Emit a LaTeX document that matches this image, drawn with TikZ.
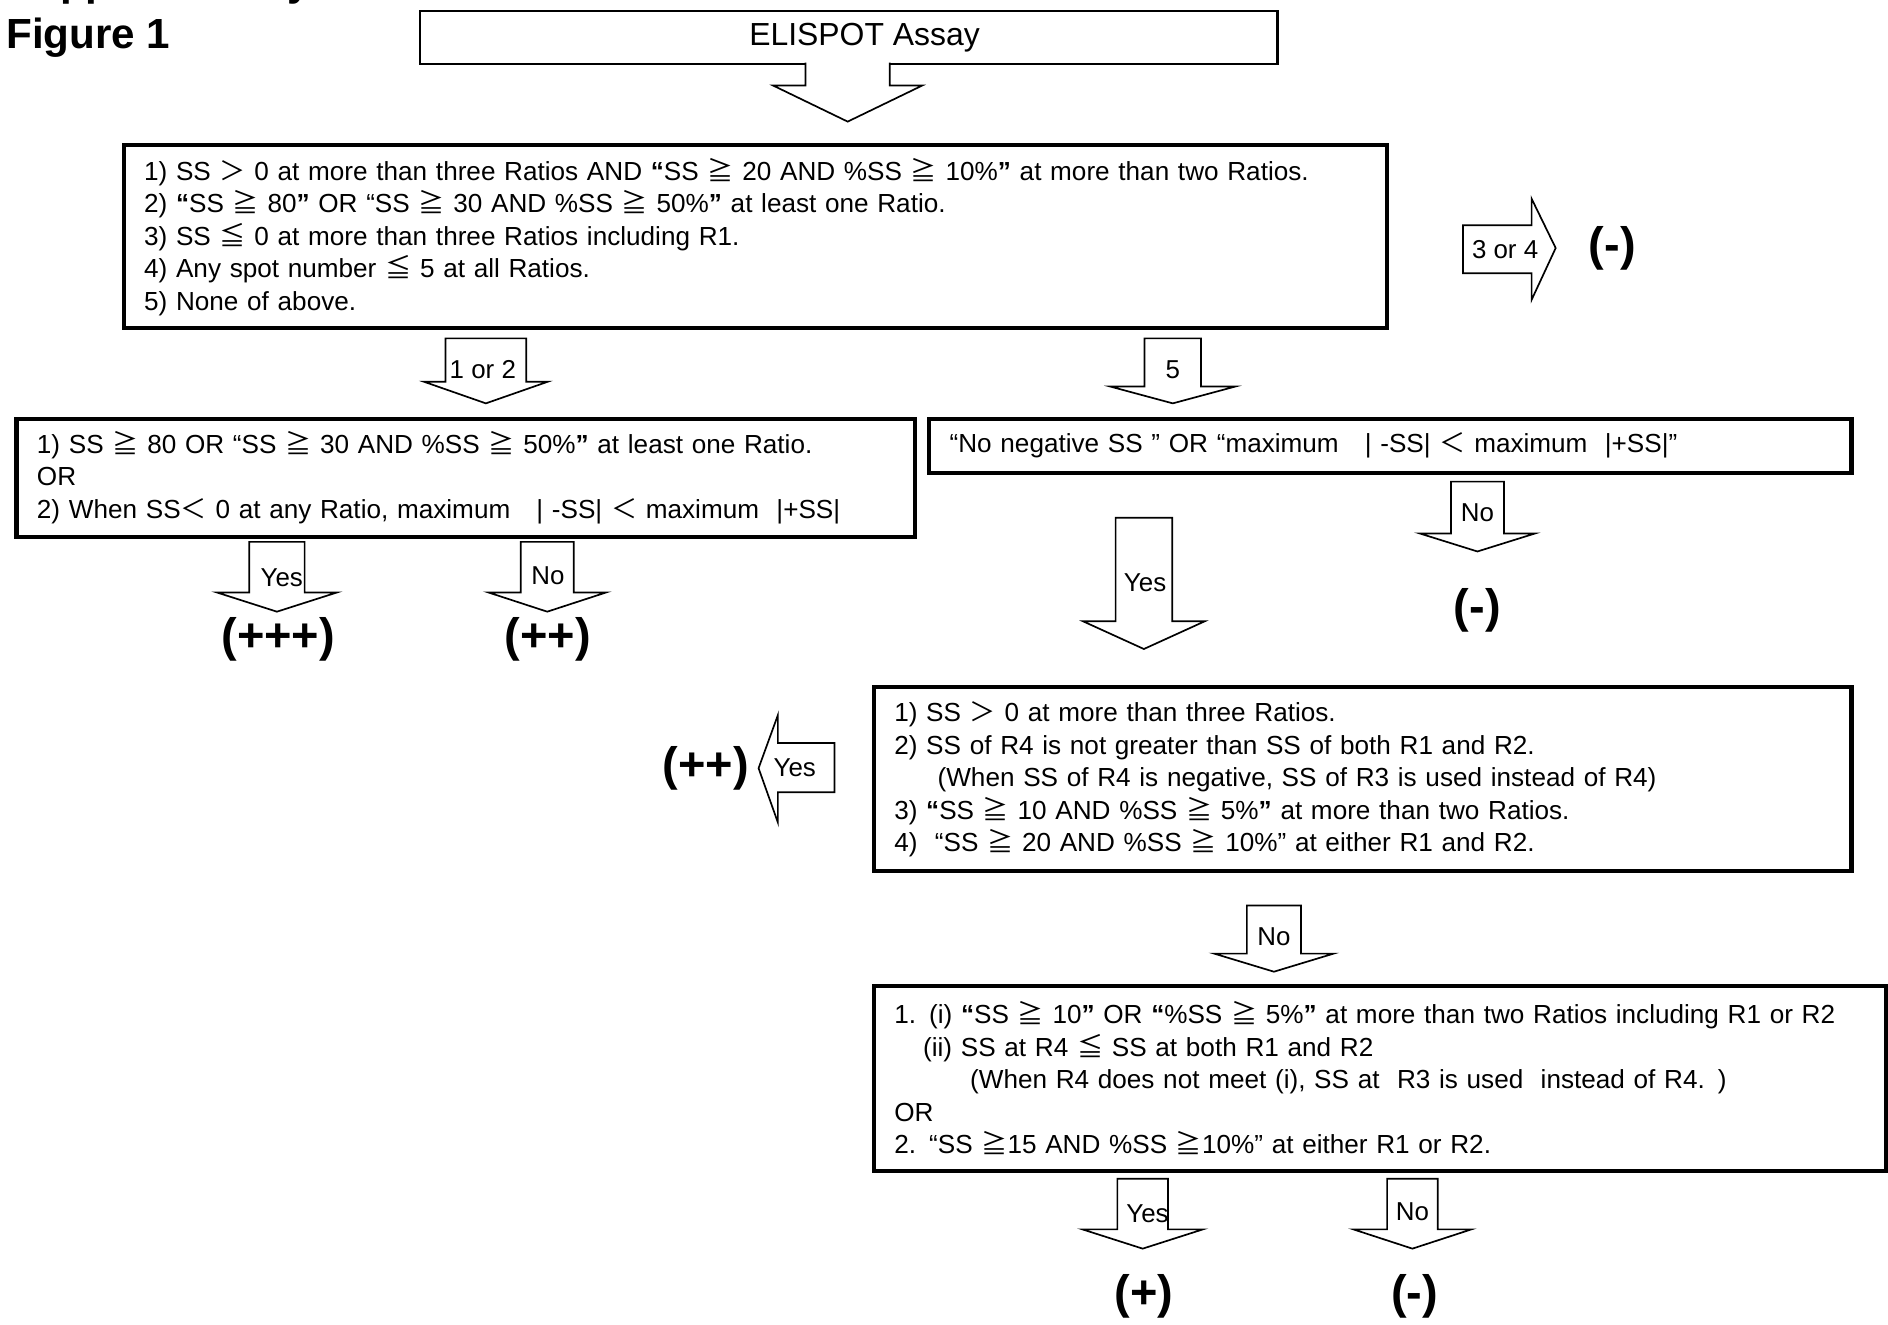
\documentclass[tikz,border=0pt]{standalone}
\usepackage{fontspec}
\setmainfont{Liberation Sans}
\newfontfamily\cjk{Noto Sans CJK JP}
\newcommand{\GEQ}{{\cjk ≧}}
\newcommand{\LEQ}{{\cjk ≦}}
\newcommand{\GTR}{{\cjk ＞}}
\newcommand{\LSS}{{\cjk ＜}}
\newcommand{\bqo}{{\bfseries “}}
\newcommand{\bqc}{{\bfseries ”}}
% down block arrow: cx, top, half shaft, wing y, half wing, tip y
\newcommand{\dar}[6]{%
  \draw[blockarrow] (#1-#3,#2) -- (#1-#3,#4) -- (#1-#5,#4) -- (#1,#6) -- (#1+#5,#4) -- (#1+#3,#4) -- (#1+#3,#2) -- cycle;}
\begin{document}
\begin{tikzpicture}[x=1pt,y=-1pt,
  box/.style={draw, line width=3.4pt, inner xsep=17pt, inner ysep=0pt, align=left, anchor=north west,
    font=\fontsize{21.7}{27}\selectfont},
  blockarrow/.style={draw, fill=white, line width=1.4pt, line join=miter},
  lbl/.style={font=\fontsize{21.5}{21.5}\selectfont, inner sep=0pt},
  res/.style={font=\bfseries\fontsize{39}{39}\selectfont, inner sep=0pt},
  ttl/.style={font=\bfseries\fontsize{35}{35}\selectfont, inner sep=0pt, anchor=base west}]
\useasboundingbox (0,0) rectangle (1568,1100);

% title
\node[ttl] (supp) at (5,-4) {Supplementary};
\node[ttl] (fig) at (5,40) {Figure 1};

% ELISPOT box and arrow
\node[draw, line width=2pt, minimum width=712pt, minimum height=44pt, inner sep=0pt, anchor=north west] (b0) at (348,8) {};
\node[font=\fontsize{26.5}{26.5}\selectfont, inner sep=0pt] (t0) at (718,31) {ELISPOT Assay};
\fill[white] (669,50) -- (669,71) -- (642,71) -- (704,101) -- (766,71) -- (739,71) -- (739,50) -- cycle;
\draw[line width=1.4pt, line join=miter] (669,52) -- (669,71) -- (642,71) -- (704,101) -- (766,71) -- (739,71) -- (739,52);

% box 1
\node[box, text width=1015pt, minimum height=152pt] (b1) at (101,119) {%
1) SS \GTR{} 0 at more than three Ratios AND \bqo SS \GEQ{} 20 AND \%SS \GEQ{} 10\%\bqc{} at more than two Ratios.\\
2) \bqo SS \GEQ{} 80\bqc{} OR “SS \GEQ{} 30 AND \%SS \GEQ{} 50\%\bqc{} at least one Ratio.\\
3) SS \LEQ{} 0 at more than three Ratios including R1.\\
4) Any spot number \LEQ{} 5 at all Ratios.\\
5) None of above.};

% 3 or 4 arrow
\draw[blockarrow] (1215,187) -- (1272,187) -- (1272,165) -- (1292,206) -- (1272,249) -- (1272,227) -- (1215,227) -- cycle;
\node[lbl] (l34) at (1250,207) {3 or 4};
\node[res] (r34) at (1339,206) {(-)};

% arrows 1 or 2 and 5
\dar{403.5}{281}{33.5}{317}{51.5}{335}
\node[lbl] (l12) at (401,307) {1 or 2};
\dar{974}{281}{23.5}{321}{52}{335}
\node[lbl] (l5) at (974,307) {5};

% box 2
\node[box, text width=712pt, minimum height=98pt] (b2) at (12,346) {%
1) SS \GEQ{} 80 OR “SS \GEQ{} 30 AND \%SS \GEQ{} 50\%\bqc{} at least one Ratio.\\
OR\\
2) When SS\LSS{} 0 at any Ratio, maximum \ \ | -SS| \LSS{} maximum \ |+SS|};

% box 3
\node[box, text width=732pt, minimum height=45pt] (b3) at (770,346) {%
“No negative SS ” OR “maximum \ \ | -SS| \LSS{} maximum \ |+SS|”};

% under box 2
\dar{230}{450}{23}{492}{50}{508}
\node[lbl] (l2y) at (234,480) {Yes};
\node[res] (r2y) at (231,531) {(+++)};
\dar{454.5}{450}{22}{492}{49}{508}
\node[lbl] (l2n) at (455,478) {No};
\node[res] (r2n) at (455,531) {(++)};

% under box 3
\dar{1227}{400}{22}{443}{48}{458}
\node[lbl] (l3n) at (1227,426) {No};
\node[res] (r3n) at (1227,507) {(-)};
\dar{950}{430}{23.5}{516}{50.5}{539}
\node[lbl] (l3y) at (951,484) {Yes};

% box 4
\node[box, text width=778pt, minimum height=153pt] (b4) at (724,569) {%
1) SS \GTR{} 0 at more than three Ratios.\\
2) SS of R4 is not greater than SS of both R1 and R2.\\
\hspace*{36pt}(When SS of R4 is negative, SS of R3 is used instead of R4)\\
3) \bqo SS \GEQ{} 10 AND \%SS \GEQ{} 5\%\bqc{} at more than two Ratios.\\
4) \ “SS \GEQ{} 20 AND \%SS \GEQ{} 10\%” at either R1 and R2.};

% left Yes arrow
\draw[blockarrow] (693,617) -- (646,617) -- (646,594) -- (630,638) -- (646,683) -- (646,658) -- (693,658) -- cycle;
\node[lbl] (l4y) at (660,638) {Yes};
\node[res] (r4y) at (586,638) {(++)};

% No under box 4
\dar{1058}{752}{22.5}{792}{49.5}{807}
\node[lbl] (l4n) at (1058,778) {No};

% box 5
\node[box, text width=807pt, minimum height=154pt] (b5) at (724,817) {%
1. (i) \bqo SS \GEQ{} 10\bqc{} OR \bqo\%SS \GEQ{} 5\%\bqc{} at more than two Ratios including R1 or R2\\
\hspace*{24pt}(ii) SS at R4 \LEQ{} SS at both R1 and R2\\
\hspace*{63pt}(When R4 does not meet (i), SS at \ R3 is used \ instead of R4. )\\
OR\\
2. “SS \GEQ{}15 AND \%SS \GEQ{}10\%” at either R1 or R2.};

% under box 5
\dar{949}{979}{21}{1021}{50}{1037}
\node[lbl] (l5y) at (953,1008) {Yes};
\node[res] (r5y) at (950,1077) {(+)};
\dar{1173}{979}{21}{1021}{49}{1037}
\node[lbl] (l5n) at (1173,1006) {No};
\node[res] (r5n) at (1175,1077) {(-)};
\end{tikzpicture}
\end{document}
